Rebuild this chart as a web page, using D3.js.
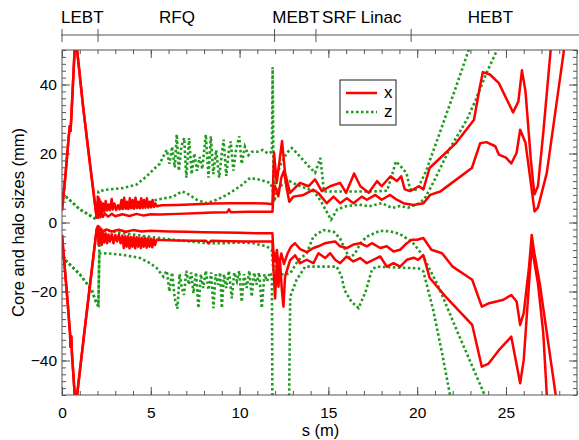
<!DOCTYPE html>
<meta charset="utf-8">
<style>
body { margin: 0; background: #fff; }
svg { font-family: "Liberation Sans", Arial, Helvetica, sans-serif; }
.axis text { fill: #000; }
.axis line { stroke: #555; }
.frame { fill: none; stroke: #555; stroke-width: 1; }
.xline { fill: none; stroke: #f00; stroke-width: 2.5; stroke-linejoin: round; }
.zline { fill: none; stroke: #1f9a1f; stroke-width: 2.6; stroke-dasharray: 2.5,2.5; }
</style>
<svg width="579" height="440"></svg>
<script src="https://cdn.jsdelivr.net/npm/d3@7"></script>
<script>

// section boundaries along the linac (m)
var sections = ["LEBT", "RFQ", "MEBT", "SRF Linac", "HEBT"],
    sectionStart = [0, 2.03, 11.97, 14.3, 19.66],
    sectionLabelAt = [0, 5.52, 11.9, 14.7, 22.9];

var xTicks = [0, 5, 10, 15, 20, 25],
    yTicks = [-40, -20, 0, 20, 40];

// x plane, upper side (halo and core), [s (m), size (mm)]
var xHaloTop = [[0,3.5],[0.2,14],[0.38,25],[0.44,28],[0.48,26.5],[0.52,30],[0.72,51],[0.85,50],[1.2,33],[1.6,16],[1.95,1.5],
  [2.02,7.5],[2.06,1.5],[2.1,6.8],[2.14,1.8],[2.18,6],[2.24,2.5],[2.3,5.5],[2.38,3.2],[2.46,6.2],[2.54,3.5],[2.62,5.2],[2.7,3.6],[2.8,6.8],[2.86,3.8],[2.95,5.5],[3.05,3.6],[3.15,5],[3.25,3.8],[3.35,6.5],[3.42,3.9],[3.5,7.2],[3.58,4],[3.66,6],[3.74,3.9],[3.82,7],[3.9,4.1],[3.98,6.5],[4.06,4],[4.14,7.2],[4.22,4.2],[4.3,6],[4.38,4.1],[4.46,7],[4.54,4.2],[4.62,6.5],[4.7,4.3],[4.78,7],[4.86,4.3],[4.94,6],[5.02,4.4],[5.1,6.5],[5.18,4.5],[5.26,5.5],[5.35,4.7],[5.6,5],[6.5,5.1],[7.5,5.3],[8.5,5.5],[9.5,5.6],[10.5,5.6],[11.5,5.5],[11.85,5.3],
  [11.94,20.2],[12.09,11.5],[12.39,23.6],[12.56,14.4],[12.84,8.6],[13.4,11.5],[13.88,10.5],[14.25,12.5],[14.63,9.1],[15.1,10.5],[15.66,11.5],[16.0,8.6],[16.45,14.2],[16.8,10.5],[17.27,8.6],[17.74,12],[18.0,10.5],[18.5,13.4],[18.85,12],[19.1,13.4],[19.3,9.6],[19.6,9.1],[20.1,10.5],[20.35,9.6],[20.7,15.8],[21.4,19.2],[22.2,23.1],[23.2,29.8],[23.5,38.5],[23.7,43.6],[24.1,42.9],[24.6,40.4],[25.4,31.9],[25.7,35.1],[25.9,44.1],[26.1,38],[26.4,18.2],[26.6,8.1],[26.8,10.5],[27.1,26],[27.5,49],[27.6,55]];

var xCoreTop = [[0,3.5],[0.2,14],[0.38,25],[0.44,28],[0.48,26.5],[0.52,30],[0.72,51],[0.85,50],[1.2,33],[1.6,16],[1.95,1.5],
  [2.05,1.5],[2.1,3],[2.15,1.5],[2.2,2.8],[2.3,1.6],[2.4,2.6],[2.6,1.7],[2.8,2.5],[3.0,1.8],[3.4,2.4],[3.8,1.9],[4.2,2.5],[4.6,2],[5,2.4],[5.5,2.3],[6.5,2.5],[7.5,2.7],[8.5,2.9],[9.3,3],[9.4,3.8],[9.5,3],[10.5,3.1],[11.5,3.1],[11.85,3.1],
  [11.92,9],[12.0,10.5],[12.18,7.6],[12.35,13],[12.5,15],[12.65,10],[12.8,6],[13.03,7.5],[13.6,8],[14.16,9.5],[14.44,8.5],[14.91,5.6],[15.29,7.5],[15.66,5.6],[16.04,7],[16.41,5.6],[16.88,7.5],[17.17,6.6],[17.64,8],[18.0,6.6],[18.48,8],[18.85,6.6],[19.23,5.6],[19.79,5.1],[20.36,5.6],[20.73,8],[21.3,9],[21.67,10.4],[23.08,15.8],[23.55,23],[23.9,23.3],[24.4,22.1],[24.6,19.7],[25.0,18.8],[25.3,17.1],[25.6,20.2],[25.8,26.9],[26.1,23.1],[26.4,11.5],[26.61,3.2],[26.8,4.3],[27.3,14.4],[28.24,49],[28.3,53]];

// x plane, lower side
var xHaloBottom = [[0,-3.6],[0.3,-22],[0.45,-32],[0.48,-36],[0.52,-33],[0.56,-38],[0.73,-51],[0.85,-50],[1.3,-30],[1.95,-2],
  [2.02,-1],[2.06,-6.5],[2.1,-1.2],[2.14,-6],[2.18,-2],[2.24,-6.5],[2.3,-3],[2.38,-5.8],[2.46,-3.2],[2.54,-6],[2.62,-3.5],[2.7,-5.5],[2.8,-3.4],[2.9,-6],[3.0,-3.6],[3.1,-5.5],[3.2,-3.5],[3.3,-6],[3.4,-3.8],[3.48,-7.4],[3.56,-4],[3.64,-7],[3.72,-4],[3.8,-7.5],[3.88,-4.2],[3.96,-7],[4.04,-4.2],[4.12,-7.5],[4.2,-4.3],[4.28,-7],[4.36,-4.4],[4.44,-7.4],[4.52,-4.4],[4.6,-7],[4.68,-4.5],[4.76,-7.3],[4.84,-4.6],[4.92,-7],[5.0,-4.7],[5.08,-7.2],[5.16,-4.8],[5.24,-6.5],[5.32,-5],[5.6,-5.1],[6.5,-5.2],[7.5,-5.3],[8.1,-5.3],[8.25,-6],[8.4,-5.3],[9.5,-5.4],[10.5,-5.5],[11.5,-5.5],[11.85,-5.5],
  [11.91,-13.7],[12.0,-22],[12.1,-10.8],[12.19,-18.6],[12.28,-11.3],[12.38,-19.5],[12.47,-24.4],[12.56,-15.7],[12.84,-11],[13.12,-9.5],[13.41,-11.8],[13.78,-10.8],[14.16,-11.8],[14.44,-8.9],[14.82,-10.3],[15.1,-8.9],[15.38,-10.8],[15.66,-11.8],[16.03,-9.85],[16.41,-11.3],[16.79,-10.3],[17.16,-11.8],[17.54,-10.8],[17.92,-9.85],[18.29,-12.8],[18.67,-11.8],[19.04,-12.8],[19.42,-10.8],[19.8,-10.2],[20.05,-10.8],[20.35,-9.5],[20.7,-16],[21.6,-21.5],[23.1,-29.7],[23.64,-41.8],[24.0,-41],[24.6,-37],[25.3,-33.1],[25.8,-46.6],[26.0,-39.9],[26.3,-17.6],[26.45,-7],[26.8,-17.6],[27.1,-32],[27.3,-50],[27.4,-55]];

var xCoreBottom = [[0,-3.6],[0.3,-22],[0.45,-32],[0.48,-36],[0.52,-33],[0.56,-38],[0.73,-51],[0.85,-50],[1.3,-30],[1.95,-2],
  [2.02,-1.5],[2.1,-3],[2.2,-1.8],[2.3,-2.8],[2.5,-2],[2.8,-2.6],[3.2,-2.1],[3.6,-2.7],[4.0,-2.2],[4.5,-2.6],[5.0,-2.4],[6,-2.6],[7,-2.7],[8,-2.8],[9,-2.9],[10,-3],[11,-3.1],[11.85,-3.1],
  [11.9,-8],[12.0,-11],[12.1,-8],[12.2,-13],[12.35,-9],[12.5,-12],[12.7,-9],[12.9,-7],[13.12,-6],[13.41,-7.7],[13.78,-8.6],[14.16,-7.4],[14.44,-6.9],[14.82,-6.0],[15.1,-5.7],[15.38,-5.5],[15.66,-6.9],[16.03,-7.4],[16.41,-6.4],[16.79,-6.0],[17.16,-6.9],[17.45,-6.0],[17.92,-7.4],[18.29,-6.9],[18.67,-8.4],[19.04,-7.9],[19.42,-6.0],[19.7,-5],[20.0,-5],[20.35,-4.5],[20.8,-7.9],[21.4,-8.9],[22.0,-12.8],[23.1,-16.6],[23.64,-24.4],[24.0,-23.5],[24.86,-22.4],[25.3,-21],[25.6,-22.9],[25.8,-29.7],[26.0,-26.3],[26.3,-12.8],[26.45,-3.6],[26.6,-8.9],[26.9,-17.6],[27.8,-50],[27.9,-55]];

// z plane, upper side
var zHaloTop = [[0,8.5],[0.5,6.2],[1.0,3.8],[1.5,2.3],[1.95,0.8],[2.05,9],[2.5,9.5],[3.45,10],[4.2,11],[4.77,13.4],[5.24,15.8],[5.5,17],[5.71,19.2],[5.9,21],
  [6.05,17],[6.2,22],[6.35,16],[6.46,25.5],[6.58,15],[6.72,22],[6.88,24.5],[7.0,13],[7.16,24.5],[7.3,14],[7.45,20],[7.6,15],[7.75,19],[7.9,15.5],[8.1,25.5],[8.25,13],[8.38,25],[8.52,14],[8.68,21],[8.85,13],[9.0,20],[9.1,24],[9.25,13.5],[9.4,21],[9.5,23.5],[9.65,15],[9.8,21],[9.98,25],[10.12,17],[10.3,22],[10.5,19.5],[10.7,20.5],[11.0,20.5],[11.3,21],[11.6,20],[11.82,20.5],
  [11.86,45],[11.92,8],[12.05,12.7],[12.28,16.5],[12.66,20.2],[12.94,21.6],[13.3,19.7],[13.8,16.8],[14.25,14.4],[14.55,18.7],[14.65,14],[14.75,9],[15.5,9],[16.5,9],[17.5,9],[18.3,9.2],[18.6,14],[18.8,17.7],[19.04,16.5],[19.4,14.3],[19.6,9.6],[20.0,9.5],[20.5,14.9],[21.3,26.4],[22.1,38],[22.9,50],[23.0,52]];

var zCoreTop = [[0,8.5],[0.5,6.2],[1.0,3.8],[1.5,2.3],[1.95,0.8],[2.1,2.7],[2.52,4.6],[3.46,4.1],[4.4,4.6],[5.33,6.6],[6.27,7.5],[6.74,9],[7.02,8.5],[7.59,6.6],[8.15,5.6],[8.71,6.6],[9.28,8],[10.03,10.5],[10.59,12.9],[11.15,12.4],[11.72,11.5],[11.85,10],
  [11.95,6],[12.1,9],[12.4,11],[12.8,12],[13.2,11],[13.7,10],[14.2,9],[14.6,6],[15.15,0.8],[15.5,3.8],[16.0,4.7],[16.7,5.2],[17.3,4.7],[18.0,5.6],[18.6,4.2],[19.04,4.8],[19.5,4.3],[20.0,5.3],[20.4,6.7],[20.9,11.5],[21.8,21.1],[22.8,29.8],[23.3,35.6],[23.9,43.3],[24.5,50],[24.6,52]];

// z plane, lower side
var zHaloBottom = [[0,-9.9],[0.5,-12.5],[1.0,-15],[1.67,-19.5],[1.95,-23.5],[2.05,-24.3],[2.1,-9],[2.52,-8.9],[3.46,-9.4],[4.4,-10.3],[4.96,-11.8],[5.33,-13.2],[5.71,-15.7],
  [5.9,-14],[6.05,-20],[6.2,-14.5],[6.35,-22],[6.5,-25],[6.62,-15],[6.75,-19],[6.87,-21],[7.0,-14],[7.15,-18],[7.28,-14.5],[7.4,-20.5],[7.55,-14.5],[7.68,-24.8],[7.82,-15],[7.95,-19],[8.1,-14],[8.25,-19.5],[8.4,-14.5],[8.53,-24.8],[8.65,-15],[8.8,-18],[8.9,-14.5],[9.0,-24.8],[9.12,-15],[9.25,-19],[9.4,-14],[9.56,-22],[9.7,-14.5],[9.85,-17],[9.98,-14],[10.12,-23],[10.25,-15],[10.4,-19],[10.55,-14],[10.68,-21.5],[10.82,-14.5],[10.95,-18],[11.1,-14.5],[11.25,-24.8],[11.4,-15],[11.55,-17],[11.7,-14.5],[11.82,-15.5],
  [11.86,-70],[12.75,-70],[12.85,-21.5],[13.2,-16.7],[13.69,-12.8],[15.47,-12.8],[15.75,-15.7],[15.9,-19.5],[16.3,-23],[16.7,-24.8],[17.1,-20],[17.45,-13.7],[17.7,-12.8],[20.07,-13.3],[20.35,-14.2],[20.9,-25.3],[21.4,-37.8],[21.85,-50],[21.9,-52]];

var zCoreBottom = [[0,-9.9],[0.5,-12.5],[1.0,-15],[1.67,-19.5],[1.95,-23.5],[2.05,-24],[2.12,-2.5],[2.23,-2.1],[3.46,-3.1],[4.77,-4.05],[6.27,-5.0],[7.21,-5.5],[8.15,-6.0],[9.09,-6.0],[10.03,-5.8],[10.78,-6.0],[11.53,-6.95],[11.81,-7.9],
  [11.9,-14],[12.05,-10],[12.25,-15],[12.6,-15],[12.85,-14.7],[13.3,-11],[13.78,-8.9],[14.16,-4],[14.72,-2.2],[15.3,-2.7],[15.66,-4.6],[15.95,-8],[16.2,-10.3],[16.5,-9],[16.8,-6],[17.16,-4.1],[17.9,-2.4],[18.5,-2.6],[19.0,-3.3],[19.7,-5.5],[20.3,-9.4],[21.2,-18.6],[22.3,-32.1],[23.8,-50],[23.9,-52]];

var svg = d3.select("svg"),
    plotLeft = 62, plotRight = 577, plotTop = 50, plotBottom = 395;

var x = d3.scaleLinear().domain([0, 29]).range([plotLeft, plotRight]),
    y = d3.scaleLinear().domain([-50, 50]).range([plotBottom, plotTop]);

svg.append("clipPath").attr("id", "plot")
  .append("rect").attr("x", plotLeft).attr("y", plotTop)
  .attr("width", plotRight - plotLeft).attr("height", plotBottom - plotTop);

// section bar on top
var bar = svg.append("g").attr("class", "axis");
bar.append("line")
    .attr("x1", x(0) - 1).attr("x2", 579)
    .attr("y1", 35).attr("y2", 35)
    .attr("stroke", "#555");
bar.selectAll(".sec").data(sectionStart).enter().append("line")
    .attr("x1", function(d) { return x(d); })
    .attr("x2", function(d) { return x(d); })
    .attr("y1", 29).attr("y2", 42);
bar.selectAll("text").data(sections).enter().append("text")
    .attr("x", function(d, i) { return x(sectionLabelAt[i]) - 1; })
    .attr("y", 23)
    .attr("font-size", 17)
    .text(function(d) { return d; });

// axes, ticks pointing inward on all four sides
function noDomain(g) {
  g.select(".domain").remove();
  g.selectAll("text").attr("font-size", 15.5);
}

svg.append("g").attr("class", "axis")
    .attr("transform", "translate(0," + plotBottom + ")")
    .call(d3.axisBottom(x).tickValues(xTicks).tickSize(-8).tickPadding(12))
    .call(noDomain);
svg.append("g").attr("class", "axis")
    .attr("transform", "translate(0," + plotBottom + ")")
    .call(d3.axisBottom(x).tickValues(d3.range(0, 30, 1)).tickSize(-4).tickFormat(""))
    .call(noDomain);
svg.append("g").attr("class", "axis")
    .attr("transform", "translate(0," + plotTop + ")")
    .call(d3.axisTop(x).tickValues(xTicks).tickSize(-8).tickFormat(""))
    .call(noDomain);
svg.append("g").attr("class", "axis")
    .attr("transform", "translate(0," + plotTop + ")")
    .call(d3.axisTop(x).tickValues(d3.range(0, 30, 1)).tickSize(-4).tickFormat(""))
    .call(noDomain);

svg.append("g").attr("class", "axis")
    .attr("transform", "translate(" + plotLeft + ",0)")
    .call(d3.axisLeft(y).tickValues(yTicks).tickSize(-8).tickPadding(5))
    .call(noDomain);
svg.append("g").attr("class", "axis")
    .attr("transform", "translate(" + plotLeft + ",0)")
    .call(d3.axisLeft(y).tickValues(d3.range(-50, 51, 2)).tickSize(-4).tickFormat(""))
    .call(noDomain);
svg.append("g").attr("class", "axis")
    .attr("transform", "translate(" + plotRight + ",0)")
    .call(d3.axisRight(y).tickValues(yTicks).tickSize(-8).tickFormat(""))
    .call(noDomain);
svg.append("g").attr("class", "axis")
    .attr("transform", "translate(" + plotRight + ",0)")
    .call(d3.axisRight(y).tickValues(d3.range(-50, 51, 2)).tickSize(-4).tickFormat(""))
    .call(noDomain);

// curves
var line = d3.line()
    .x(function(d) { return x(d[0]); })
    .y(function(d) { return y(d[1]); });

var curves = svg.append("g").attr("clip-path", "url(#plot)");

[zHaloTop, zCoreTop, zHaloBottom, zCoreBottom].forEach(function(s) {
  curves.append("path").attr("class", "zline").attr("d", line(s));
});
[xHaloTop, xCoreTop, xHaloBottom, xCoreBottom].forEach(function(s) {
  curves.append("path").attr("class", "xline").attr("d", line(s));
});

svg.append("rect").attr("class", "frame")
    .attr("x", plotLeft).attr("y", plotTop)
    .attr("width", plotRight - plotLeft).attr("height", plotBottom - plotTop);

// axis titles
svg.append("text")
    .attr("x", (plotLeft + plotRight) / 2 + 1).attr("y", 436)
    .attr("text-anchor", "middle").attr("font-size", 16.5)
    .text("s (m)");
svg.append("text")
    .attr("transform", "translate(24," + y(0) + ") rotate(-90)")
    .attr("text-anchor", "middle").attr("font-size", 16.5)
    .text("Core and halo sizes (mm)");

// legend
var legend = svg.append("g").attr("transform", "translate(340,80)");
legend.append("rect")
    .attr("width", 56).attr("height", 45)
    .attr("fill", "#fff").attr("stroke", "#444").attr("stroke-width", 1.2);
legend.append("line").attr("class", "xline")
    .attr("x1", 6).attr("x2", 37).attr("y1", 13).attr("y2", 13);
legend.append("line").attr("class", "zline")
    .attr("x1", 6).attr("x2", 37).attr("y1", 32).attr("y2", 32);
legend.append("text").attr("x", 44).attr("y", 18).attr("font-size", 17).text("x");
legend.append("text").attr("x", 44).attr("y", 37).attr("font-size", 17).text("z");

</script>
